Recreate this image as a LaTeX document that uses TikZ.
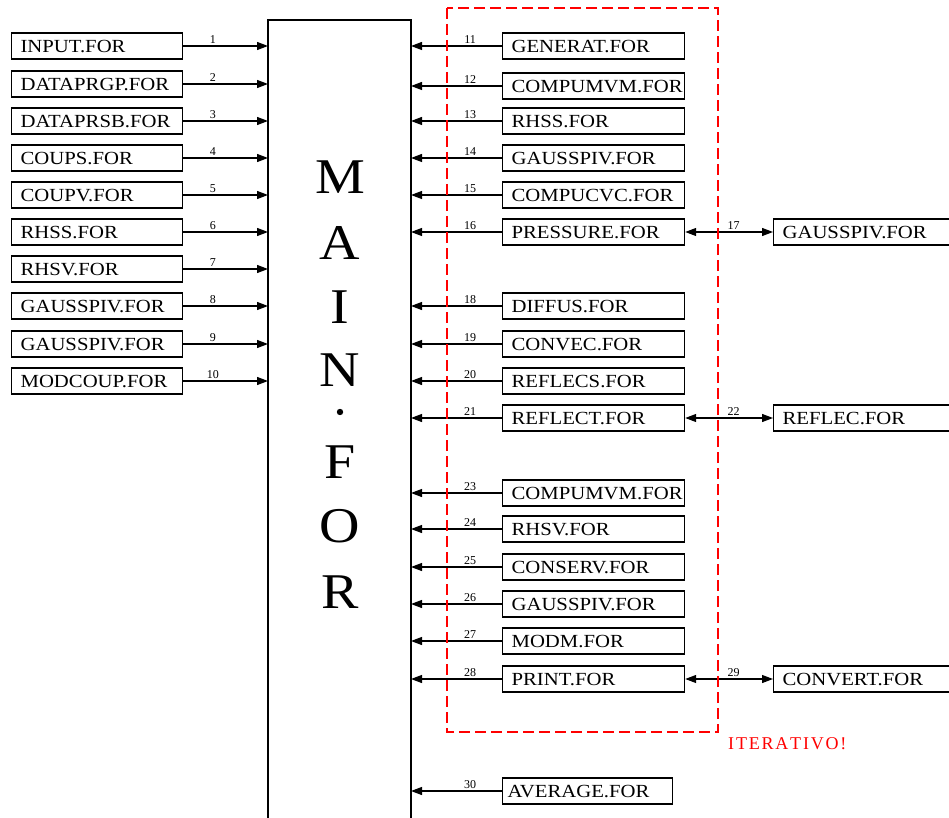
\documentclass[tikz,border=0pt]{standalone}
\usepackage{fontspec}
\setmainfont{Liberation Serif}
\newfontfamily\boxfont[FakeStretch=1.12]{Liberation Serif}
\usetikzlibrary{arrows.meta}
\begin{document}
\begin{tikzpicture}[x=1pt,y=-1pt,
  fbox/.style={draw,line width=1.2pt,minimum height=26pt,inner sep=0pt,anchor=west,font=\boxfont\fontsize{18.5}{18.5}\selectfont,text depth=0pt},
  lbox/.style={fbox,minimum width=171pt,text width=153pt,align=left},
  rbox/.style={fbox,minimum width=182pt,text width=164pt,align=left},
  tip/.tip={Triangle[length=11pt,width=8pt]},
  conn/.style={line width=1.2pt,-tip},
  dconn/.style={line width=1.2pt,tip-tip},
  num/.style={font=\fontsize{12}{12}\selectfont,inner sep=1.5pt,above},
  big/.style={font=\boxfont\fontsize{50}{50}\selectfont}]
\useasboundingbox (0,0) rectangle (949,818);
\begin{scope}
\clip (0,0) rectangle (949,818);
% main box
\draw[line width=1.2pt] (268,840) -- (268,20) -- (411,20) -- (411,840);
\foreach \ch/\yy [count=\i] in {M/177,A/243,I/307,N/370,F/462,O/526,R/592}
  \node[big] (m\i) at (340,\yy) {\ch};
\fill (340,412) circle (3.2pt);
% left boxes
\foreach \t/\yy [count=\i] in {INPUT.FOR/46,DATAPRGP.FOR/84,DATAPRSB.FOR/121,COUPS.FOR/158,COUPV.FOR/195,RHSS.FOR/232,RHSV.FOR/269,GAUSSPIV.FOR/306,GAUSSPIV.FOR/344,MODCOUP.FOR/381}{
  \node[lbox] (L\i) at (11,\yy) {\t};
  \coordinate (LT\i) at (268,\yy);
  \draw[conn] (L\i.east) -- node[num,pos=0.35] {\i} (LT\i);
}
% right boxes
\foreach \t/\yy/\n in {GENERAT.FOR/46/11,COMPUMVM.FOR/86/12,RHSS.FOR/121/13,GAUSSPIV.FOR/158/14,COMPUCVC.FOR/195/15,PRESSURE.FOR/232/16,DIFFUS.FOR/306/18,CONVEC.FOR/344/19,REFLECS.FOR/381/20,REFLECT.FOR/418/21,COMPUMVM.FOR/493/23,RHSV.FOR/529/24,CONSERV.FOR/567/25,GAUSSPIV.FOR/604/26,MODM.FOR/641/27,PRINT.FOR/679/28}{
  \node[rbox] (R\n) at (502,\yy) {\t};
  \coordinate (RT\n) at (411,\yy);
  \draw[conn] (R\n.west) -- node[num,pos=0.35] {\n} (RT\n);
}
\node[fbox,minimum width=170pt,text width=160pt,align=left] (R30) at (502,791) {AVERAGE.FOR};
\coordinate (RT30) at (411,791);
\draw[conn] (R30.west) -- node[num,pos=0.35] {30} (RT30);
% far right boxes
\foreach \t/\yy/\n/\s in {GAUSSPIV.FOR/232/17/16,REFLEC.FOR/418/22/21,CONVERT.FOR/679/29/28}{
  \node[fbox,minimum width=190pt,text width=172pt,align=left] (F\n) at (773,\yy) {\t};
  \draw[dconn] (R\s.east) -- node[num,pos=0.55] {\n} (F\n.west);
}
% dashed region
\draw[red,line width=1.2pt,dash pattern=on 11pt off 5pt] (447,8) rectangle (718,732);
\node[red,anchor=base west,inner sep=0pt,font=\fontsize{18}{18}\selectfont] (iter) at (728,749) {I\kern1.8pt T\kern1.8pt E\kern1.8pt R\kern1.8pt A\kern1.8pt T\kern1.8pt I\kern1.8pt V\kern1.8pt O\kern1.8pt !};
\end{scope}
\end{tikzpicture}
\end{document}
